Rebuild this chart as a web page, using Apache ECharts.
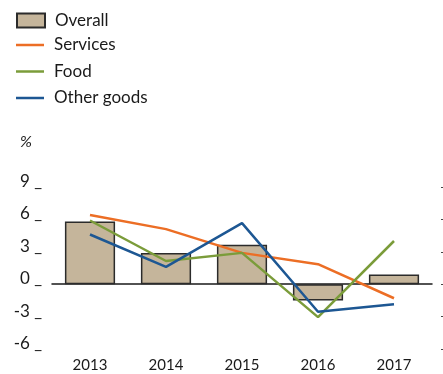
<!DOCTYPE html>
<html><head><meta charset="utf-8">
<script src="https://cdn.jsdelivr.net/npm/echarts@6/dist/echarts.min.js"></script>
<style>html,body{margin:0;padding:0;background:#fff}#c{width:443px;height:374px}</style>
</head><body><div id="c"></div>
<script>
const years = ['2013','2014','2015','2016','2017'];
const overall = [5.8, 2.9, 3.65, -1.5, 0.9];
const services = [6.4, 5.1, 2.9, 1.85, -1.3];
const food = [5.9, 2.15, 2.9, -3.05, 4.0];
const otherGoods = [4.6, 1.6, 5.65, -2.55, -1.85];
const yTicks = {min: -6, max: 9, interval: 3};

const FONT = 'Lato';
const legendText = {fontFamily: FONT, fontSize: 17, color: '#1a1a1a', lineHeight: 16, padding: [0,0,0,5]};
const chart = echarts.init(document.getElementById('c'), null, {renderer: 'canvas'});
chart.setOption({
  animation: false,
  textStyle: {fontFamily: FONT},
  grid: {left: 52, right: 11, top: 187, bottom: 25, containLabel: false},
  legend: [{
    orient: 'vertical', left: 16, top: 12, itemWidth: 28, itemHeight: 14, padding: 0,
    textStyle: legendText,
    data: [{name: 'Overall', icon: 'rect'}]
  }, {
    orient: 'vertical', left: 16, top: 36.5, itemWidth: 28, itemHeight: 2.5, itemGap: 9.5, padding: 0,
    textStyle: legendText,
    data: [{name: 'Services', icon: 'rect'}, {name: 'Food', icon: 'rect'}, {name: 'Other goods', icon: 'rect'}]
  }],
  graphic: [{type: 'text', left: 20, top: 134, style: {text: '%', font: 'italic 16px ' + FONT, fill: '#1a1a1a'}}],
  xAxis: {
    type: 'category', data: years,
    axisLine: {onZero: true, lineStyle: {color: '#1a1a1a', width: 1.5}},
    axisTick: {show: false},
    axisLabel: {fontFamily: FONT, fontSize: 15, color: '#1a1a1a', margin: 9},
    position: 'bottom'
  },
  yAxis: [{
    type: 'value', min: yTicks.min, max: yTicks.max, interval: yTicks.interval,
    splitLine: {show: false}, axisLine: {show: false}, axisTick: {show: false},
    axisLabel: {fontFamily: FONT, fontSize: 17, color: '#1a1a1a', margin: 10, formatter: '{value} _', verticalAlign: 'bottom', padding: [0,0,-3,0]}
  }, {
    type: 'value', position: 'right', offset: 9, min: yTicks.min, max: yTicks.max, interval: yTicks.interval,
    splitLine: {show: false}, axisLine: {show: false}, axisLabel: {show: false},
    axisTick: {show: true, length: 2, lineStyle: {color: '#444'}}
  }],
  series: [
    {name: 'Overall', type: 'bar', data: overall, barCategoryGap: '34%',
     itemStyle: {color: '#C5B59B', borderColor: '#2b2b2b', borderWidth: 1.5}, z: 1},
    {name: 'Services', type: 'line', data: services, symbol: 'none', lineStyle: {color: '#EC6E25', width: 2.5}, itemStyle: {color: '#EC6E25'}, z: 3},
    {name: 'Food', type: 'line', data: food, symbol: 'none', lineStyle: {color: '#7B9C3A', width: 2.5}, itemStyle: {color: '#7B9C3A'}, z: 3},
    {name: 'Other goods', type: 'line', data: otherGoods, symbol: 'none', lineStyle: {color: '#1D5793', width: 2.5}, itemStyle: {color: '#1D5793'}, z: 4}
  ]
});
</script></body></html>
